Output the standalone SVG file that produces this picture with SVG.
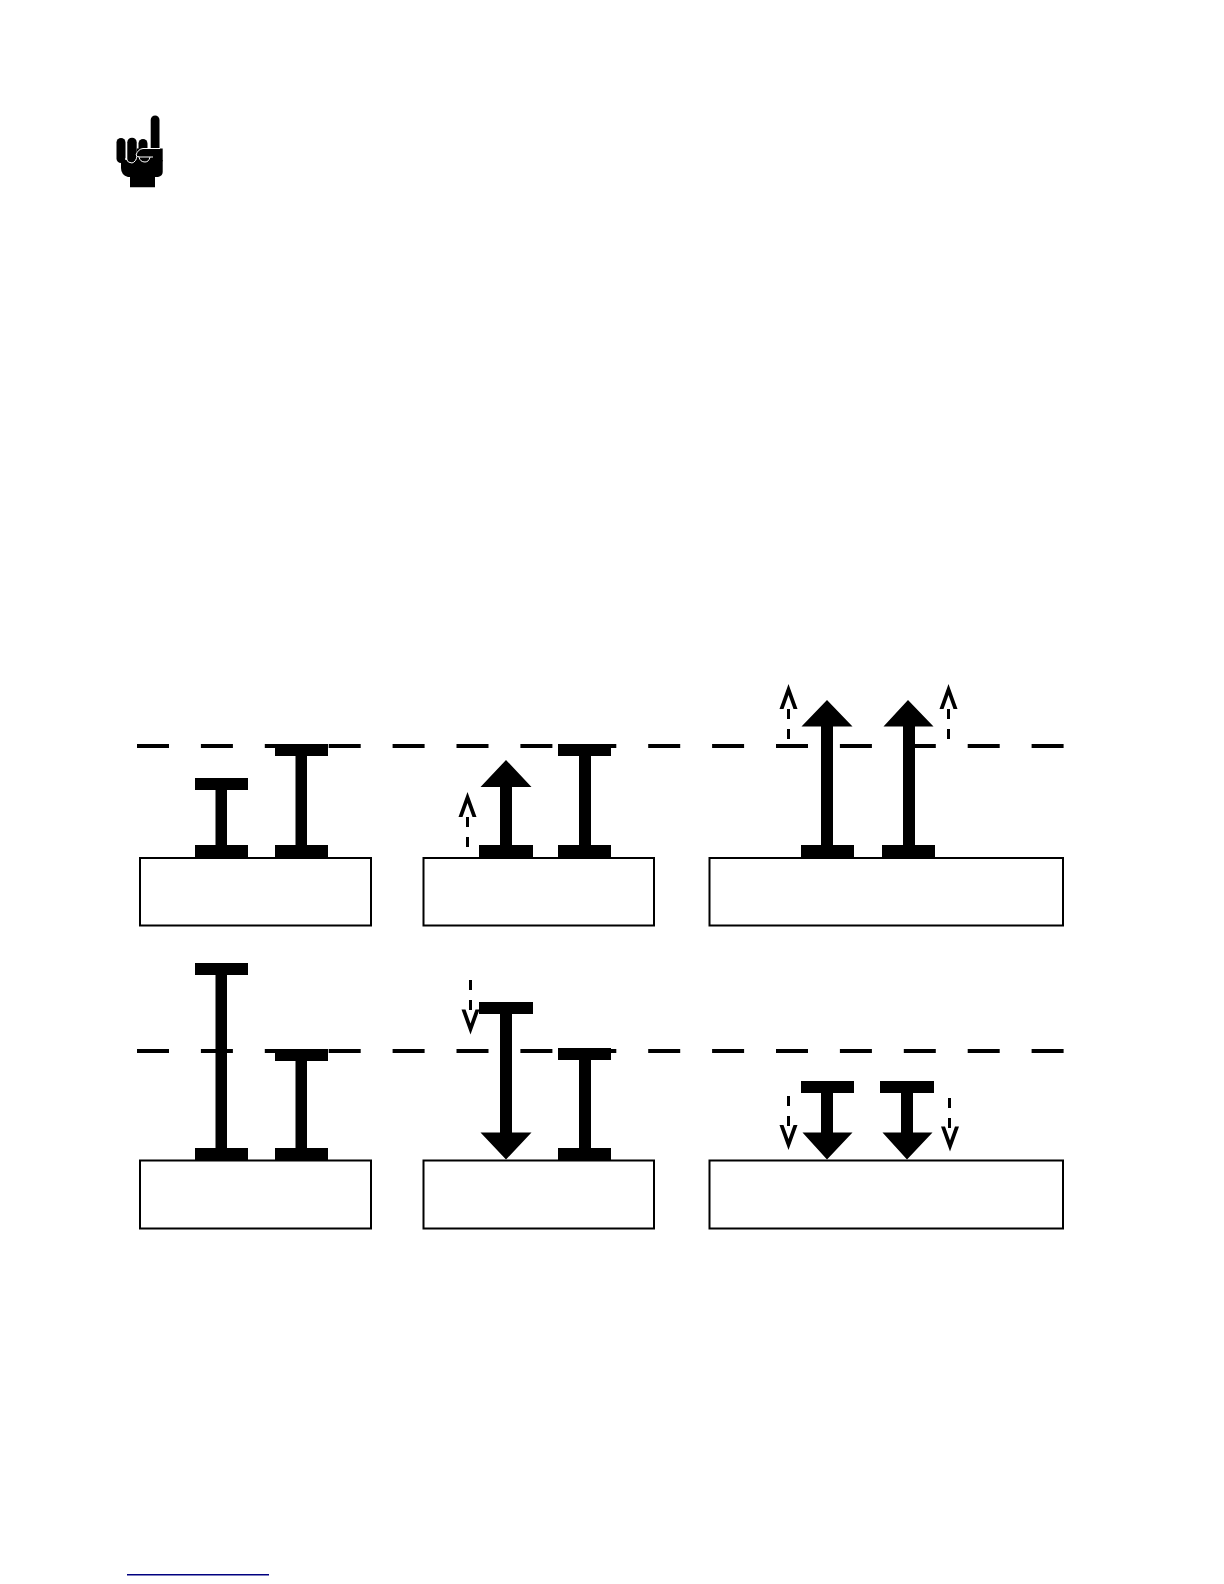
<svg xmlns="http://www.w3.org/2000/svg" width="1224" height="1584" viewBox="0 0 1224 1584">
<style>
.box{fill:#fff;stroke:#000;stroke-width:2}
.ref{fill:none;stroke:#000;stroke-width:4;stroke-dasharray:32 31.9}
.dash{fill:none;stroke:#000;stroke-width:3;stroke-dasharray:10 10}
</style>
<defs>
<path id="up" d="M0 0L9 25L5 25L0 11L-5 25L-9 25Z"/>
<path id="down" d="M0 0L9 -25L5 -25L0 -11L-5 -25L-9 -25Z"/>
</defs>
<rect width="1224" height="1584" fill="#fff"/>
<g id="hand">
<rect x="150.700" y="115.500" width="8.800" height="40" rx="4.400"/>
<rect x="116.500" y="138" width="9" height="25" rx="4.500"/>
<rect x="127.300" y="137.700" width="9.400" height="26" rx="4.600"/>
<rect x="138.500" y="139" width="9" height="25" rx="4.500"/>
<path d="M121 160H162.700V172Q162.700 176 158 177H155V187.300H130V177H128Q121 175 121 168Z"/>
<path d="M137 148.500H162.700V160Q162.700 163 158 163H141Q136 163 136 156Z"/>
<path d="M136 155Q138 149 143 148.500H160M136 155Q137 157 140 157H153M125.500 158Q128 163.500 132 163Q136 162 137 156M139 157Q140 162 145 162Q149 162 150 157" fill="none" stroke="#fff" stroke-width="1"/>
</g>
<g id="reference-lines">
<path class="ref" d="M137 746H1064"/>
<path class="ref" d="M137 1051H1064"/>
</g>
<g id="boxes">
<rect id="box-a1" class="box" x="140" y="858" width="231" height="67.500"/>
<rect id="box-a2" class="box" x="423.500" y="858" width="230.500" height="67.500"/>
<rect id="box-a3" class="box" x="709.500" y="858" width="353.500" height="67.500"/>
<rect id="box-b1" class="box" x="140" y="1160.500" width="231" height="68"/>
<rect id="box-b2" class="box" x="423.500" y="1160.500" width="230.500" height="68"/>
<rect id="box-b3" class="box" x="709.500" y="1160.500" width="353.500" height="68"/>
</g>
<g id="connectors">
<g id="a1-left"><rect x="195" y="778" width="53" height="12"/><rect x="215.500" y="790" width="11.500" height="55"/><rect x="195" y="845" width="53" height="12"/></g>
<g id="a1-right"><rect x="275" y="744" width="53" height="12"/><rect x="295.500" y="756" width="11.500" height="89"/><rect x="275" y="845" width="53" height="12"/></g>
<g id="a2-left"><path d="M506 760L531.500 787H512V845H533V857H479V845H500V787H480.500Z"/></g>
<g id="a2-right"><rect x="558" y="744" width="53" height="12"/><rect x="579" y="756" width="12" height="89"/><rect x="558" y="845" width="53" height="12"/></g>
<g id="a2-small"><use href="#up" x="467.500" y="792"/><path class="dash" d="M467.500 817V847"/></g>
<g id="a3-left"><path d="M827 700L852.500 726.500H833V845H854V857.500H801V845H821V726.500H801.500Z"/></g>
<g id="a3-right"><path d="M908 700L933.500 726.500H915V845H935V857.500H882V845H903V726.500H883.500Z"/></g>
<g id="a3-small-left"><use href="#up" x="788.500" y="684"/><path class="dash" d="M788.500 709V739"/></g>
<g id="a3-small-right"><use href="#up" x="948.500" y="684"/><path class="dash" d="M948.500 709V739"/></g>
<g id="b1-left"><rect x="195" y="963" width="53" height="12"/><rect x="215.500" y="975" width="11.500" height="173"/><rect x="195" y="1148" width="53" height="12"/></g>
<g id="b1-right"><rect x="275" y="1049" width="53" height="12"/><rect x="295.500" y="1061" width="11.500" height="87"/><rect x="275" y="1148" width="53" height="12"/></g>
<g id="b2-left"><path d="M479 1002H533V1014H512V1132.500H531.500L506 1159.500L480.500 1132.500H500V1014H479Z"/></g>
<g id="b2-right"><rect x="558" y="1048" width="53" height="12"/><rect x="579" y="1060" width="12" height="88"/><rect x="558" y="1148" width="53" height="12"/></g>
<g id="b2-small"><path class="dash" d="M470.500 980V1010"/><use href="#down" x="470.500" y="1034.500"/></g>
<g id="b3-left"><path d="M801 1081H854V1093H833V1132.500H852.500L827 1159.500L802.500 1132.500H821V1093H801Z"/></g>
<g id="b3-right"><path d="M880 1081H934V1093H913V1132.500H932.500L907 1159.500L882.500 1132.500H901V1093H880Z"/></g>
<g id="b3-small-left"><path class="dash" d="M788.500 1096V1126"/><use href="#down" x="788.500" y="1150"/></g>
<g id="b3-small-right"><path class="dash" d="M949.500 1098V1128"/><use href="#down" x="950" y="1151.500"/></g>
</g>
<g id="footer-rule"><rect x="127" y="1574" width="142" height="1.500" fill="#000080"/></g>
</svg>
